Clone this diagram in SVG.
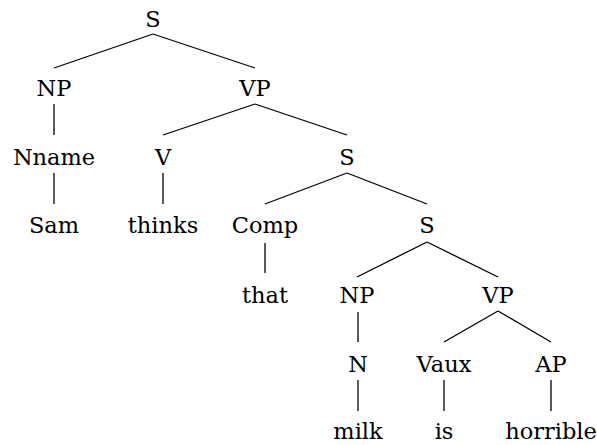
<svg xmlns="http://www.w3.org/2000/svg" width="597" height="445" viewBox="0 0 597 445">
<style>
text{font-family:"DejaVu Serif","Liberation Serif",serif;font-size:22.5px;text-anchor:middle;fill:#000}
line{stroke:#000;stroke-width:1.3}
</style>
<rect width="597" height="445" fill="#fff"/>
<g id="connectors">
<line x1="153" y1="34" x2="54" y2="68"/>
<line x1="153" y1="34" x2="255" y2="68"/>
<line x1="54" y1="104" x2="54" y2="135"/>
<line x1="255" y1="104" x2="163" y2="135"/>
<line x1="255" y1="104" x2="347" y2="135"/>
<line x1="54" y1="173" x2="54" y2="204"/>
<line x1="163" y1="173" x2="163" y2="204"/>
<line x1="347" y1="173" x2="265" y2="204"/>
<line x1="347" y1="173" x2="427" y2="204"/>
<line x1="265" y1="243" x2="265" y2="273"/>
<line x1="427" y1="242" x2="357" y2="277"/>
<line x1="427" y1="242" x2="498" y2="277"/>
<line x1="358" y1="312" x2="358" y2="342"/>
<line x1="498" y1="311" x2="444" y2="342"/>
<line x1="498" y1="311" x2="551" y2="342"/>
<line x1="358" y1="380" x2="358" y2="411"/>
<line x1="444" y1="380" x2="444" y2="411"/>
<line x1="551" y1="380" x2="551" y2="411"/>
</g>
<g id="S1"><text x="153" y="27">S</text></g>
<g id="NP1"><text x="54" y="96">NP</text></g>
<g id="VP1"><text x="255" y="96">VP</text></g>
<g id="Nname"><text x="54" y="165">Nname</text></g>
<g id="V"><text x="163" y="165">V</text></g>
<g id="S2"><text x="347" y="165">S</text></g>
<g id="Sam"><text x="54" y="233">Sam</text></g>
<g id="thinks"><text x="163" y="233">thinks</text></g>
<g id="Comp"><text x="265" y="233">Comp</text></g>
<g id="S3"><text x="427" y="233">S</text></g>
<g id="that"><text x="265" y="303">that</text></g>
<g id="NP2"><text x="357" y="303">NP</text></g>
<g id="VP2"><text x="498" y="303">VP</text></g>
<g id="N"><text x="358" y="372">N</text></g>
<g id="Vaux"><text x="444" y="372">Vaux</text></g>
<g id="AP"><text x="551" y="372">AP</text></g>
<g id="milk"><text x="358" y="439">milk</text></g>
<g id="is"><text x="444" y="439">is</text></g>
<g id="horrible"><text x="551" y="439">horrible</text></g>
</svg>
